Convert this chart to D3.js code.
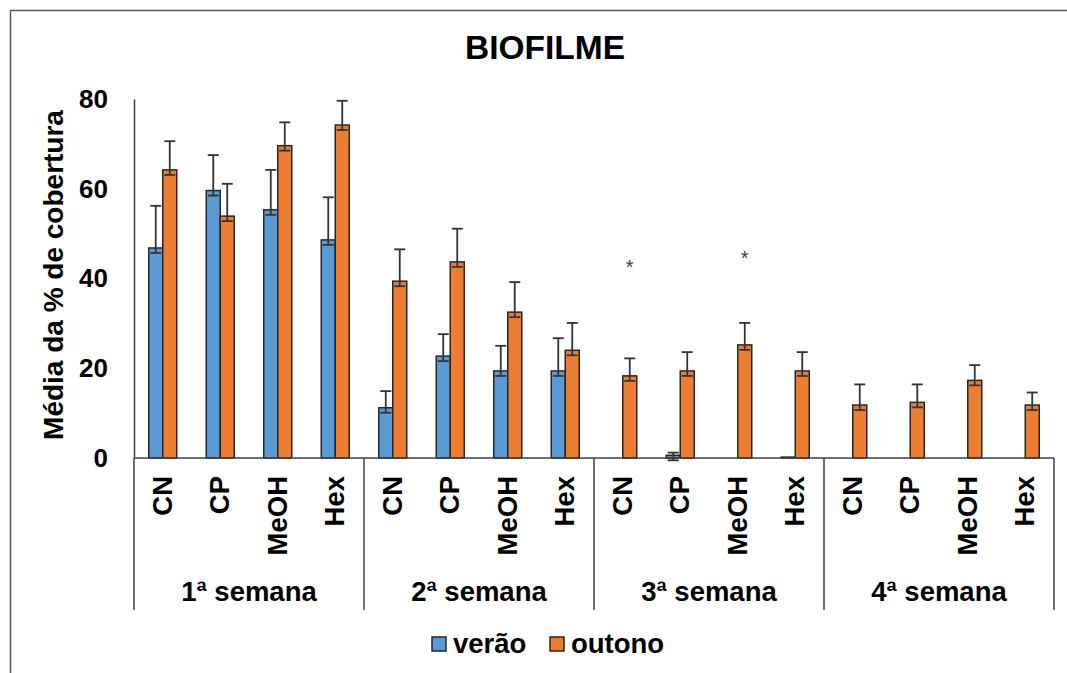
<!DOCTYPE html>
<html>
<head>
<meta charset="utf-8">
<script src="https://cdn.jsdelivr.net/npm/d3@7/dist/d3.min.js"></script>
<style>
  html, body { margin: 0; padding: 0; background: #fff; }
  svg { display: block; font-family: "Liberation Sans", Arial, sans-serif; }
</style>
</head>
<body>
<svg id="chart" width="1067" height="673"></svg>
<script>
// Weeks (groups) and treatments (categories within each week)
const weeks = ["1ª semana", "2ª semana", "3ª semana", "4ª semana"];
const treatments = ["CN", "CP", "MeOH", "Hex"];
const seasons = ["verão", "outono"];

// Mean % coverage, listed week by week, treatment order CN, CP, MeOH, Hex
const veraoMeans   = [46.8, 59.6, 55.3, 48.6,  11.2, 22.7, 19.4, 19.4,  0, 0.6, 0, 0.2,  0, 0, 0, 0];
const veraoErrors  = [9.4, 7.9, 8.9, 9.5,  3.7, 4.9, 5.6, 7.3,  0, 0.6, 0, 0,  0, 0, 0, 0];
const outonoMeans  = [64.2, 53.9, 69.6, 74.2,  39.4, 43.7, 32.5, 24.0,  18.3, 19.4, 25.2, 19.4,  11.8, 12.4, 17.3, 11.8];
const outonoErrors = [6.4, 7.2, 5.2, 5.4,  7.1, 7.4, 6.7, 6.1,  3.9, 4.2, 4.9, 4.2,  4.6, 4.0, 3.4, 2.8];

// Significance markers (week index, treatment index, height on the value axis)
const markWeek = [2, 2];
const markTreatment = [0, 2];
const markLevel = [43.0, 45.0];

const yTicks = [0, 20, 40, 60, 80];
const colors = { "verão": "#5B9BD5", "outono": "#ED7D31" };

const svg = d3.select("#chart");
const font = "'Liberation Sans', Arial, sans-serif";
const ink = "#262626";
const labelSize = 27.5;

// Outer frame (top and left edges visible)
svg.append("rect").attr("x", 10.5).attr("y", 10.5).attr("width", 1100).attr("height", 700)
  .attr("fill", "none").attr("stroke", "#595959").attr("stroke-width", 1.5);

// Title
svg.append("text").attr("x", 545).attr("y", 59).attr("text-anchor", "middle")
  .attr("font-size", 33.5).attr("font-weight", "bold").attr("fill", "#000").text("BIOFILME");

const plotLeft = 134, plotRight = 1054, plotTop = 99, plotBottom = 458;

const x0 = d3.scaleBand().domain(weeks).range([plotLeft, plotRight]).padding(0);
const x1 = d3.scaleBand().domain(treatments).range([0, x0.bandwidth()]).padding(0);
const barW = 14;
const xs = d3.scaleBand().domain(seasons).range([-barW, barW]).padding(0);
const y = d3.scaleLinear().domain([0, 80]).range([plotBottom, plotTop]);

// Flatten the series into records
const records = [];
weeks.forEach((w, wi) => {
  treatments.forEach((t, ti) => {
    const i = wi * treatments.length + ti;
    records.push({ week: w, treat: t, season: "verão", v: veraoMeans[i], e: veraoErrors[i] });
    records.push({ week: w, treat: t, season: "outono", v: outonoMeans[i], e: outonoErrors[i] });
  });
});
const center = d => x0(d.week) + x1(d.treat) + x1.bandwidth() / 2;

// Y axis: labels only plus the axis line
const yAxis = d3.axisLeft(y).tickValues(yTicks).tickSize(0).tickPadding(26);
const yg = svg.append("g").attr("transform", `translate(${plotLeft},0)`).call(yAxis);
yg.select(".domain").attr("stroke", "#404040").attr("stroke-width", 1.5);
yg.selectAll("text").attr("font-family", font).attr("font-size", 26).attr("font-weight", "bold").attr("fill", "#000");

// Y axis title
svg.append("text").attr("transform", `translate(63,275) rotate(-90)`)
  .attr("text-anchor", "middle").attr("font-size", 28).attr("font-weight", "bold").attr("fill", "#000")
  .text("Média da % de cobertura");

// Bars
const bars = svg.append("g");
bars.selectAll("rect").data(records.filter(d => d.v > 0)).join("rect")
  .attr("x", d => center(d) + xs(d.season))
  .attr("y", d => y(d.v))
  .attr("width", xs.bandwidth())
  .attr("height", d => y(0) - y(d.v))
  .attr("fill", d => colors[d.season])
  .attr("stroke", ink).attr("stroke-width", 1.5);

// Error bars (upper whisker with caps)
const errs = svg.append("g").attr("stroke", "#333").attr("stroke-width", 1.8);
const withErr = records.filter(d => d.e > 0);
const cx = d => center(d) + xs(d.season) + xs.bandwidth() / 2;
errs.selectAll("line.stem").data(withErr).join("line").attr("class", "stem")
  .attr("x1", cx).attr("x2", cx).attr("y1", d => y(d.v) + 5).attr("y2", d => y(d.v + d.e));
errs.selectAll("line.cap").data(withErr).join("line").attr("class", "cap")
  .attr("x1", d => cx(d) - 5.5).attr("x2", d => cx(d) + 5.5)
  .attr("y1", d => y(d.v + d.e)).attr("y2", d => y(d.v + d.e));
errs.selectAll("line.base").data(withErr).join("line").attr("class", "base")
  .attr("x1", d => cx(d) - 5.5).attr("x2", d => cx(d) + 5.5)
  .attr("y1", d => y(d.v) + 5).attr("y2", d => y(d.v) + 5);

// Significance asterisks above the outono bars
markWeek.forEach((wi, k) => {
  const d = { week: weeks[wi], treat: treatments[markTreatment[k]], season: "outono" };
  svg.append("text").attr("x", cx(d)).attr("y", y(markLevel[k]) + 9)
    .attr("text-anchor", "middle").attr("font-size", 20).attr("fill", "#404040").text("*");
});

// X axis line and group separators
svg.append("line").attr("x1", plotLeft).attr("x2", plotRight).attr("y1", plotBottom).attr("y2", plotBottom)
  .attr("stroke", "#404040").attr("stroke-width", 1.5);
const seps = weeks.map(w => x0(w)).concat([plotRight]);
svg.append("g").selectAll("line").data(seps).join("line")
  .attr("x1", d => d).attr("x2", d => d).attr("y1", plotBottom).attr("y2", 610)
  .attr("stroke", "#404040").attr("stroke-width", 1.5);

// Treatment labels (rotated)
const catLabels = [];
weeks.forEach(w => treatments.forEach(t => catLabels.push({ week: w, treat: t })));
svg.append("g").selectAll("text").data(catLabels).join("text")
  .attr("transform", d => `translate(${center(d) + 9},476) rotate(-90)`)
  .attr("text-anchor", "end").attr("font-size", labelSize).attr("font-weight", "bold").attr("fill", "#000")
  .text(d => d.treat);

// Week labels
svg.append("g").selectAll("text").data(weeks).join("text")
  .attr("x", d => x0(d) + x0.bandwidth() / 2).attr("y", 601)
  .attr("text-anchor", "middle").attr("font-size", labelSize).attr("font-weight", "bold").attr("fill", "#000")
  .text(d => d);

// Legend
const legendX = [432, 550];
const lg = svg.append("g");
seasons.forEach((s, i) => {
  lg.append("rect").attr("x", legendX[i]).attr("y", 637).attr("width", 14).attr("height", 14)
    .attr("fill", colors[s]).attr("stroke", ink).attr("stroke-width", 1.5);
  lg.append("text").attr("x", legendX[i] + 21).attr("y", 653)
    .attr("font-size", labelSize).attr("font-weight", "bold").attr("fill", "#000").text(s);
});
</script>
</body>
</html>
